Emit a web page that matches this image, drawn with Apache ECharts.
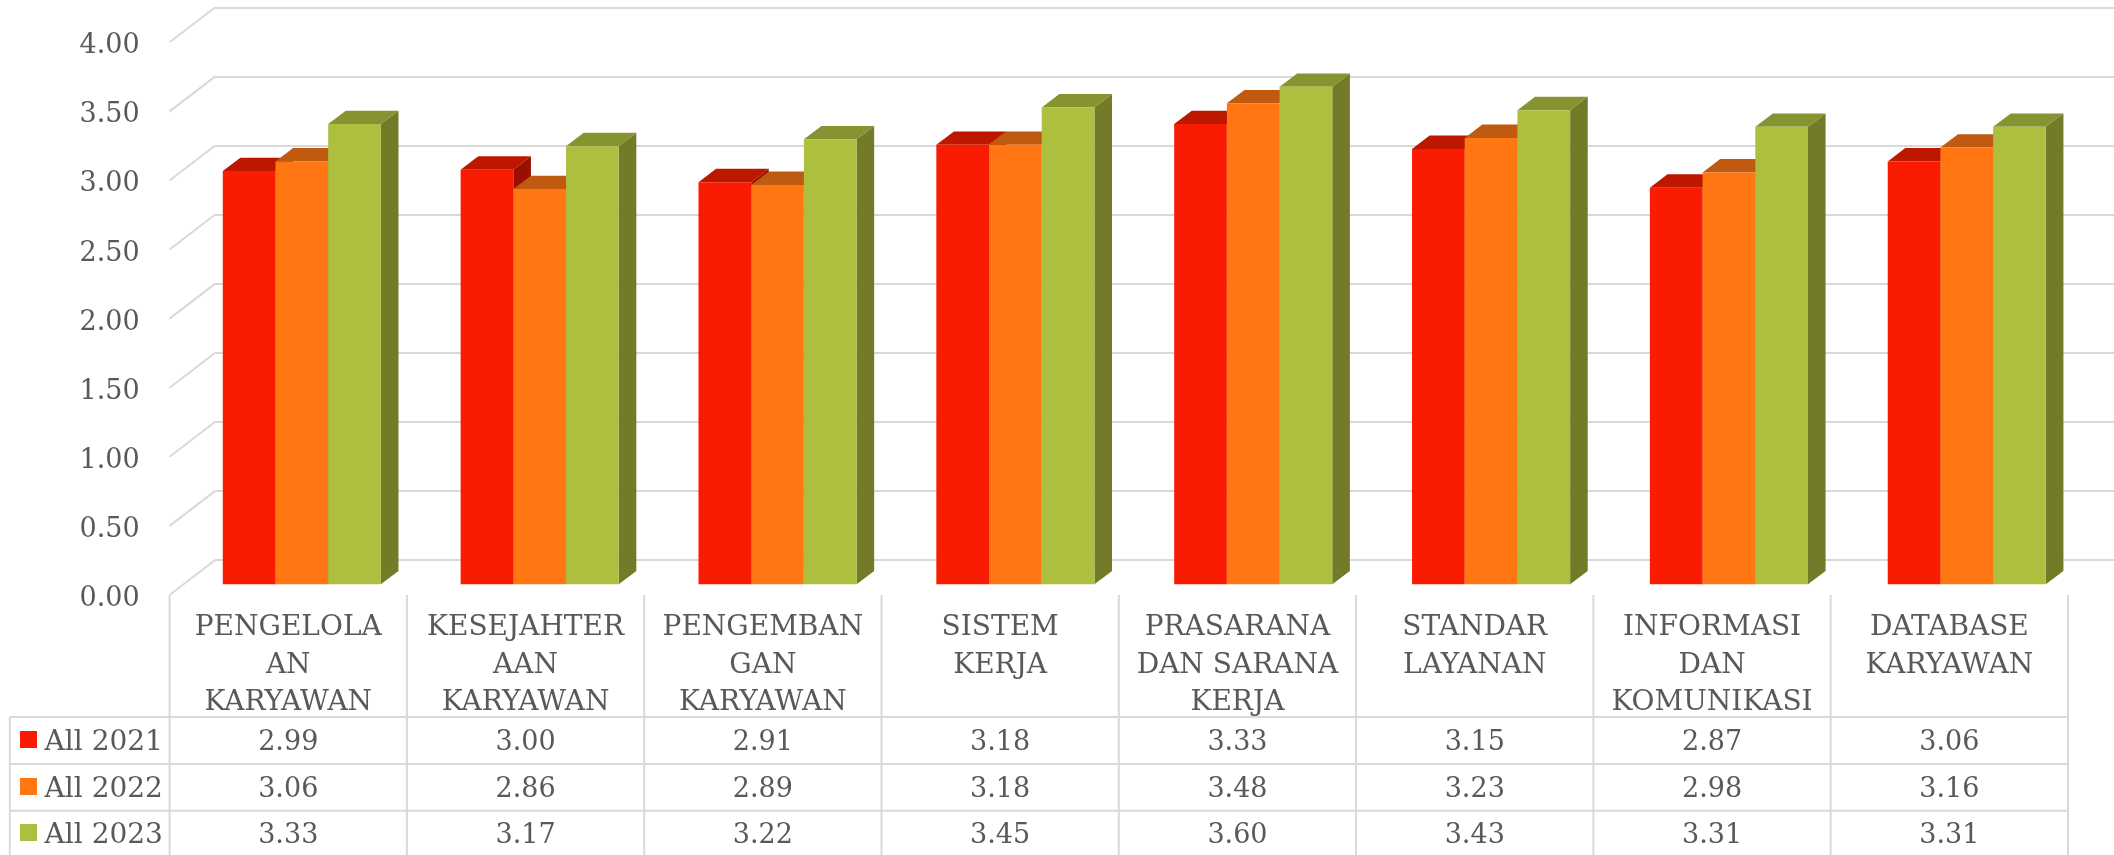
<!DOCTYPE html>
<html>
<head>
<meta charset="utf-8">
<title>Chart</title>
<style>
  html, body { margin: 0; padding: 0; background: #fff; }
  #chart { width: 2114px; height: 855px; }
</style>
<script src="https://cdn.jsdelivr.net/npm/echarts@6/dist/echarts.min.js"></script>
</head>
<body>
<div id="chart"></div>
<script>
// data
const categories = [
  'PENGELOLA\nAN\nKARYAWAN',
  'KESEJAHTER\nAAN\nKARYAWAN',
  'PENGEMBAN\nGAN\nKARYAWAN',
  'SISTEM\nKERJA',
  'PRASARANA\nDAN SARANA\nKERJA',
  'STANDAR\nLAYANAN',
  'INFORMASI\nDAN\nKOMUNIKASI',
  'DATABASE\nKARYAWAN'
];
const yTicks = [0, 0.5, 1, 1.5, 2, 2.5, 3, 3.5, 4];
const seriesNames = ['All 2021', 'All 2022', 'All 2023'];
const all2021 = [2.99, 3.00, 2.91, 3.18, 3.33, 3.15, 2.87, 3.06];
const all2022 = [3.06, 2.86, 2.89, 3.18, 3.48, 3.23, 2.98, 3.16];
const all2023 = [3.33, 3.17, 3.22, 3.45, 3.60, 3.43, 3.31, 3.31];
const seriesValues = [all2021, all2022, all2023];

const FONT = '"DejaVu Serif"';
const TEXT = '#595959';
const LINE = '#D9D9D9';
const front = ['#FA1C02', '#FF7612', '#AEBF3F'];
const top_ = ['#BE1700', '#C05A10', '#869331'];
const side = ['#9A1000', '#9A4A0C', '#737A28'];

// layout (px)
const wallLeft = 169.6, wallTop = 42.3, wallH = 552.7, colW = 237.3;
const depthX = 45.6, depthY = 35;
const barsLeft = 182.9, barsTop = 31.5, barsH = 552.8, barsPitch = 237.85;
const barDX = 17.6, barDY = 13.4, barW = 52.7;
const tableLeft = 9.8, rowLines = [717, 764, 810.7];
const rowMid = [740, 787, 833];
const textShift = 3;
const labelShift = 4; // axis text sits a bit under its gridline

function line(x1, y1, x2, y2) {
  return { type: 'line', shape: { x1, y1, x2, y2 }, style: { stroke: LINE, lineWidth: 2 }, silent: true };
}

function tableGraphics() {
  const g = [];
  const tableRight = wallLeft + colW * categories.length;
  for (let i = 0; i <= categories.length; i++) {
    const x = wallLeft + colW * i;
    g.push(line(x, 595, x, 855));
  }
  g.push(line(tableLeft, rowLines[0], tableLeft, 855));
  rowLines.forEach(y => g.push(line(tableLeft, y, tableRight, y)));
  seriesNames.forEach((name, r) => {
    g.push({ type: 'rect', shape: { x: 20, y: rowMid[r] - 9, width: 17, height: 17 }, style: { fill: front[r] }, silent: true });
    g.push({ type: 'text', x: 44.6, y: rowMid[r] + textShift, style: { text: name, font: '28px ' + FONT, fill: TEXT, verticalAlign: 'middle', align: 'left' }, silent: true });
    seriesValues[r].forEach((v, c) => {
      g.push({ type: 'text', x: wallLeft + colW * (c + 0.5), y: rowMid[r] + textShift, style: { text: v.toFixed(2), font: '27px ' + FONT, fill: TEXT, verticalAlign: 'middle', align: 'center' }, silent: true });
    });
  });
  return g;
}

// 3d looking bar: front face, then side, then top
function renderBar(seriesIdx) {
  return function (params, api) {
    const p = api.coord([api.value(0), api.value(1)]);
    const base = api.coord([api.value(0), 0]);
    const x0 = p[0] + (seriesIdx - 1.5) * barW;
    const x1 = x0 + barW;
    const y0 = p[1], y1 = base[1];
    return {
      type: 'group',
      children: [
        { type: 'polygon', shape: { points: [[x1, y0], [x1 + barDX, y0 - barDY], [x1 + barDX, y1 - barDY], [x1, y1]] }, style: { fill: side[seriesIdx] } },
        { type: 'polygon', shape: { points: [[x0, y0], [x0 + barDX, y0 - barDY], [x1 + barDX, y0 - barDY], [x1, y0]] }, style: { fill: top_[seriesIdx] } },
        { type: 'rect', shape: { x: x0, y: y0, width: barW, height: y1 - y0 }, style: { fill: front[seriesIdx] } }
      ]
    };
  };
}

const chart = echarts.init(document.getElementById('chart'));
chart.setOption({
  animation: false,
  backgroundColor: '#fff',
  grid: [
    // front edge of the floor, holds the labels
    { left: wallLeft, top: wallTop + labelShift, width: colW * categories.length, height: wallH },
    // back wall, holds the gridlines
    { left: wallLeft + depthX, top: wallTop - depthY, width: 2114 - wallLeft - depthX, height: wallH },
    // plane of the bars
    { left: barsLeft, top: barsTop, width: barsPitch * categories.length, height: barsH }
  ],
  xAxis: [
    {
      gridIndex: 0, type: 'category', data: categories,
      axisLine: { show: false }, axisTick: { show: false },
      axisLabel: { interval: 0, margin: 14 - labelShift, color: TEXT, fontFamily: FONT, fontSize: 28, lineHeight: 37.6, verticalAlign: 'top' }
    },
    { gridIndex: 1, type: 'category', data: categories, show: false },
    { gridIndex: 2, type: 'category', data: categories, show: false }
  ],
  yAxis: [
    {
      gridIndex: 0, type: 'value', min: 0, max: 4, interval: 0.5,
      axisLine: { show: false }, axisTick: { show: false }, splitLine: { show: false },
      axisLabel: { margin: 30, color: TEXT, fontFamily: FONT, fontSize: 27, formatter: v => v.toFixed(2) }
    },
    {
      gridIndex: 1, type: 'value', min: 0, max: 4, interval: 0.5,
      axisLine: { show: false }, axisTick: { show: false }, axisLabel: { show: false },
      splitLine: { show: true, lineStyle: { color: LINE, width: 2 } }
    },
    { gridIndex: 2, type: 'value', min: 0, max: 4, interval: 0.5, show: false, splitLine: { show: false } }
  ],
  graphic: tableGraphics(),
  series: [
    // diagonal side wall gridlines
    {
      type: 'custom', xAxisIndex: 0, yAxisIndex: 0, silent: true, clip: false,
      data: yTicks.map(v => [0, v]),
      encode: { x: 0, y: 1 },
      renderItem(params, api) {
        const y = api.coord([0, api.value(1)])[1] - labelShift;
        return { type: 'line', shape: { x1: wallLeft, y1: y, x2: wallLeft + depthX, y2: y - depthY }, style: { stroke: LINE, lineWidth: 2 } };
      }
    }
  ].concat(seriesValues.map((vals, s) => ({
    name: seriesNames[s],
    type: 'custom',
    xAxisIndex: 2, yAxisIndex: 2, clip: false,
    z: 3 + s,
    data: vals.map((v, i) => [i, v]),
    encode: { x: 0, y: 1 },
    renderItem: renderBar(s)
  })))
});
window.addEventListener('resize', chart.resize);
</script>
</body>
</html>
